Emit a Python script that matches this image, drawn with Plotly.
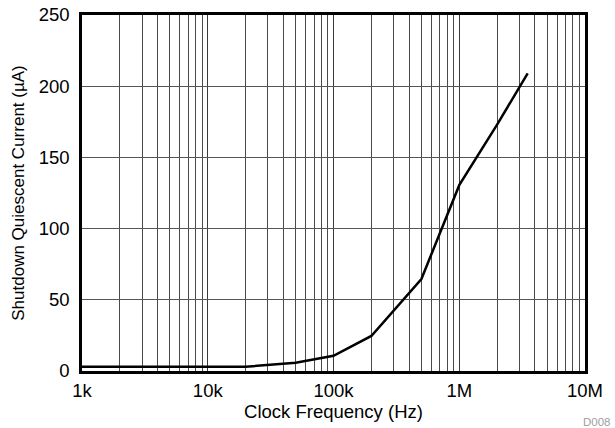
import plotly.graph_objects as go

freq_hz = [1e3, 2e3, 5e3, 1e4, 2e4, 5e4, 1e5, 2e5, 3e5, 5e5, 1e6, 2e6, 3.5e6]
current_ua = [3, 3, 3, 3, 3, 5.8, 10.7, 24.6, 42.5, 64.6, 130.5, 173, 209]

x_tickvals = [1e3, 1e4, 1e5, 1e6, 1e7]
x_ticktext = ["1k", "10k", "100k", "1M", "10M"]
y_tickvals = [0, 50, 100, 150, 200, 250]

font_family = "Liberation Sans, Arial, sans-serif"

fig = go.Figure()
fig.add_trace(go.Scatter(
    x=freq_hz, y=current_ua, mode="lines",
    line=dict(color="black", width=2.5),
    showlegend=False,
))

fig.update_layout(
    width=615, height=428,
    margin=dict(l=82, r=30, t=15, b=57),
    paper_bgcolor="white", plot_bgcolor="white",
    font=dict(family=font_family, size=18, color="black"),
)

fig.update_xaxes(
    type="log", range=[3, 7],
    tickvals=x_tickvals, ticktext=x_ticktext,
    tickfont=dict(size=18.5),
    showgrid=True, gridcolor="#3a3a3a", gridwidth=1,
    minor=dict(showgrid=True, gridcolor="#4a4a4a", gridwidth=1,
               tickvals=[m * 10 ** e for e in range(3, 7) for m in range(2, 10)]),
    showline=True, linecolor="black", linewidth=2.5, mirror=True,
    ticks="", ticklabelstandoff=1, automargin=False,
    title=dict(text="Clock Frequency (Hz)", standoff=0, font=dict(size=18.5)),
    zeroline=False,
)
fig.update_yaxes(
    range=[0, 250], tickvals=y_tickvals,
    tickfont=dict(size=18.5),
    showgrid=True, gridcolor="#555", gridwidth=1,
    showline=True, linecolor="black", linewidth=2.5, mirror=True,
    ticks="", ticklabelstandoff=6, automargin=False,
    title=dict(text="Shutdown Quiescent Current (µA)", standoff=10, font=dict(size=17)),
    zeroline=False,
)

fig.add_annotation(
    text="D008", xref="paper", yref="paper", x=1.0557, y=-0.143,
    xanchor="right", yanchor="middle", showarrow=False,
    font=dict(size=11.5, color="#a0a0a0"),
)

fig.write_html(
    "out.html",
    config={"displayModeBar": False},
    post_script="document.body.style.margin='0';document.body.style.overflow='hidden';",
)
